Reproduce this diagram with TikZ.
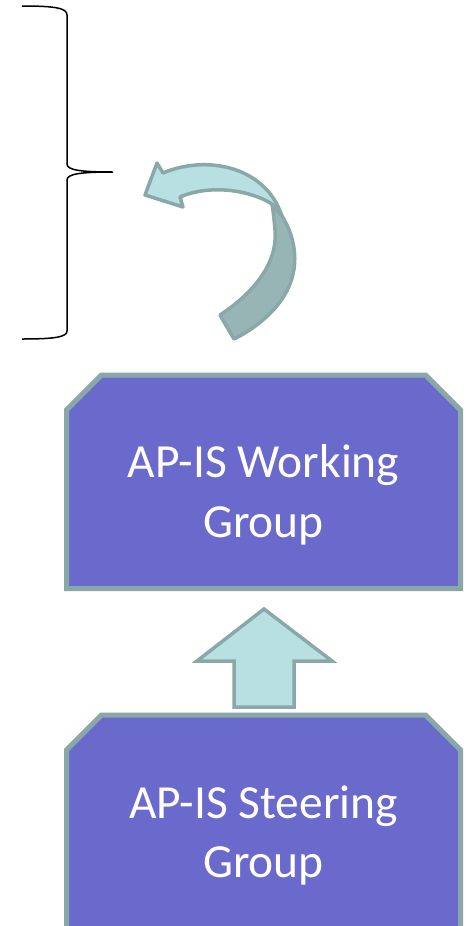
\documentclass[tikz,border=0pt]{standalone}
\usepackage{fontspec}
\setmainfont{Carlito}
\definecolor{boxfill}{HTML}{6A6ACC}
\definecolor{edgegray}{HTML}{8AA8A8}
\definecolor{lightcyan}{HTML}{B8DFE1}
\definecolor{darkteal}{HTML}{97B5B5}
\tikzset{
  groupbox/.style={fill=boxfill, draw=edgegray, line width=5pt, line join=miter},
  grouptext/.style={text=white, font=\fontsize{47.5}{60}\selectfont, anchor=base, inner sep=0pt},
  blockarrow/.style={fill=lightcyan, draw=edgegray, line width=3.5pt, line join=miter},
  backarrow/.style={fill=darkteal, draw=edgegray, line width=3.5pt, line join=round},
  bracepath/.style={draw=black, line width=1.5pt}
}
\begin{document}
\begin{tikzpicture}[x=1pt,y=-1pt]
\useasboundingbox (0,0) rectangle (470,926);
\clip (0,0) rectangle (470,926);
% brace
\coordinate (btop) at (22,6);
\coordinate (btip) at (113,172);
\coordinate (bbot) at (22,339);
\draw[bracepath] (btop) .. controls (55,6) and (67,8) .. (67,15) -- (67,164)
  .. controls (67,170) and (80,172) .. (btip)
  .. controls (80,172) and (67,174) .. (67,180) -- (67,331)
  .. controls (67,337) and (55,339) .. (bbot);
% curved arrow: back (dark) part
\filldraw[backarrow] (272,204) -- (282,216)
  .. controls (294,235) and (298,258) .. (292,278)
  .. controls (285,303) and (262,325) .. (234,339)
  -- (220,315)
  .. controls (255,292) and (278,262) .. (275,230)
  .. controls (274,218) and (273,210) .. (272,204)
  -- cycle;
% curved arrow: front (light) part with head
\filldraw[blockarrow, line join=round] (145,195) -- (157,163) -- (163,173)
  .. controls (205,155) and (265,165) .. (282,216)
  -- (272,204)
  .. controls (250,190) and (210,184) .. (180,197)
  -- (183,207) -- cycle;
% working group box
\filldraw[groupbox] (66.5,410) -- (101.5,375) -- (425.5,375) -- (460.5,410) -- (460.5,588.5) -- (66.5,588.5) -- cycle;
\node[grouptext] (wg1) at (263.5,477) {AP-IS Working};
\node[grouptext] (wg2) at (263.5,537) {Group};
% up arrow
\filldraw[blockarrow] (264,609) -- (332,661) -- (294,661) -- (294,707) -- (234,707) -- (234,661) -- (197,661) -- cycle;
% steering group box
\filldraw[groupbox] (66.5,750) -- (101.5,715) -- (425.5,715) -- (460.5,750) -- (460.5,960) -- (66.5,960) -- cycle;
\node[grouptext] (sg1) at (263.5,818) {AP-IS Steering};
\node[grouptext] (sg2) at (263.5,877) {Group};
\end{tikzpicture}
\end{document}
